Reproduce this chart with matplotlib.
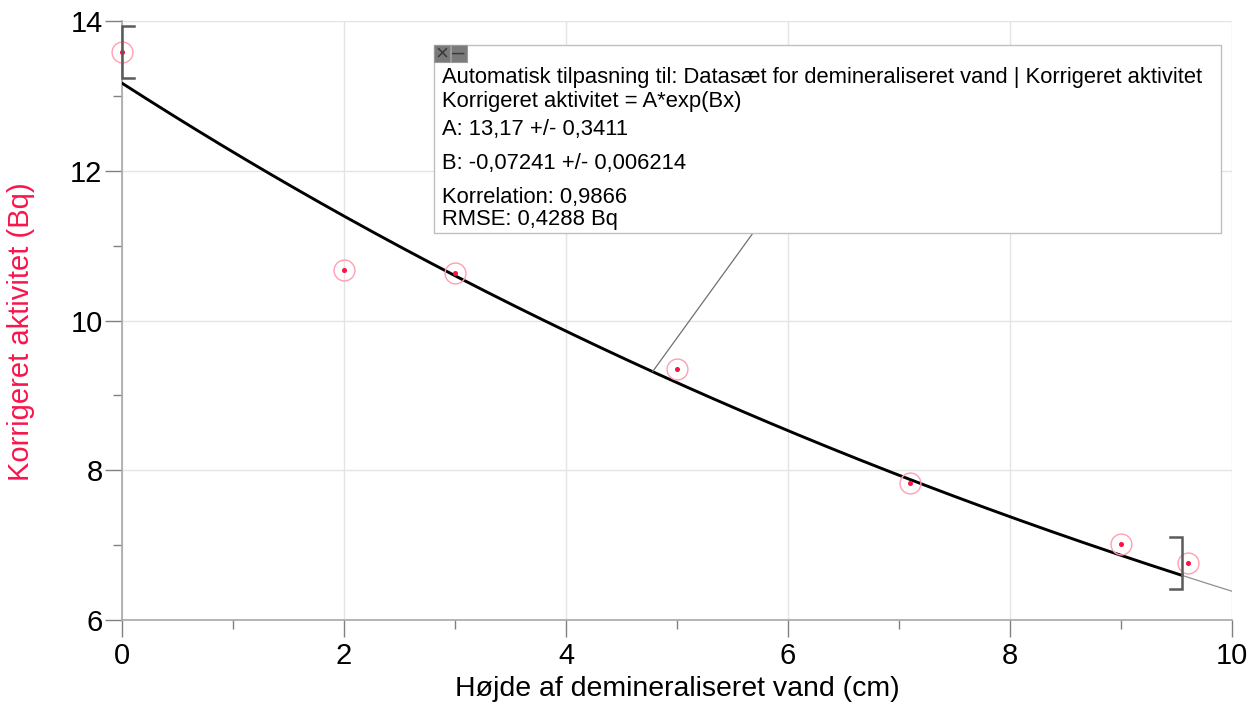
import numpy as np
import matplotlib
matplotlib.use("Agg")
import matplotlib.pyplot as plt
from matplotlib.ticker import MultipleLocator

plt.rcParams['font.family'] = ['Liberation Sans', 'DejaVu Sans']

# Data
hoejde = [0.0, 2.0, 3.0, 5.0, 7.1, 9.0, 9.6]
aktivitet = [13.59, 10.68, 10.64, 9.35, 7.83, 7.02, 6.76]

# Fit parameters
A = 13.17
B = -0.07241
fit_start = 0.0
fit_end = 9.55

legend_lines = [
    "Automatisk tilpasning til: Datasæt for demineraliseret vand | Korrigeret aktivitet",
    "Korrigeret aktivitet = A*exp(Bx)",
    "A: 13,17 +/- 0,3411",
    "B: -0,07241 +/- 0,006214",
    "Korrelation: 0,9866",
    "RMSE: 0,4288 Bq",
]

W, H = 1260, 713
fig = plt.figure(figsize=(W / 100, H / 100), dpi=100)
ax = fig.add_axes([122 / W, (H - 620) / H, (1232 - 122) / W, (620 - 21) / H])

ax.set_xlim(0, 10)
ax.set_ylim(6, 14)

ax.xaxis.set_major_locator(MultipleLocator(2))
ax.xaxis.set_minor_locator(MultipleLocator(1))
ax.yaxis.set_major_locator(MultipleLocator(2))
ax.yaxis.set_minor_locator(MultipleLocator(1))

ax.grid(True, which='major', color='#e4e4e4', linewidth=1.0, zorder=0)
ax.set_axisbelow(True)
for s in ['top', 'right']:
    ax.spines[s].set_visible(False)
for s in ['left', 'bottom']:
    ax.spines[s].set_color('#a8a8a8')
    ax.spines[s].set_linewidth(1.2)

ax.tick_params(which='major', length=12, width=1.0, color='#808080', labelsize=21, pad=2)
ax.tick_params(which='minor', length=6.5, width=1.0, color='#808080')
ax.tick_params(axis='x', which='major', pad=4)

ax.set_xlabel("Højde af demineraliseret vand (cm)", fontsize=20.5, labelpad=4)
ax.set_ylabel("Korrigeret aktivitet (Bq)", fontsize=21, color='#f8164c')
ax.yaxis.set_label_coords(-0.078, 0.482)

# Fit curve
xf = np.linspace(fit_start, fit_end, 300)
ax.plot(xf, A * np.exp(B * xf), color='black', linewidth=2.1, zorder=3)
xe = np.linspace(fit_end, 10, 50)
ax.plot(xe, A * np.exp(B * xe), color='#909090', linewidth=0.9, zorder=3)

# Data points
ax.plot(hoejde, aktivitet, linestyle='none', marker='o', markersize=15,
        markerfacecolor='none', markeredgecolor='#ff9fb0', markeredgewidth=1.0,
        zorder=4, clip_on=False)
ax.plot(hoejde, aktivitet, linestyle='none', marker='o', markersize=2.6,
        color='#ff1040', zorder=5, clip_on=False)

# Fit range brackets
hh = 26 / 74.9
arm = 12 / 111
y0 = aktivitet[0]
ax.plot([fit_start + arm, fit_start, fit_start, fit_start + arm],
        [y0 + hh, y0 + hh, y0 - hh, y0 - hh], color='#5a5a5a', linewidth=1.8,
        zorder=6, clip_on=False, solid_joinstyle='miter')
y1 = aktivitet[-1]
ax.plot([fit_end - arm, fit_end, fit_end, fit_end - arm],
        [y1 + hh, y1 + hh, y1 - hh, y1 - hh], color='#5a5a5a', linewidth=1.8,
        zorder=6, clip_on=False, solid_joinstyle='miter')

# Connector line from curve to box
xc = 4.78
ax.annotate("", xy=(xc, A * np.exp(B * xc)), xytext=(753 / W, 1 - 233 / H),
            textcoords='figure fraction',
            arrowprops=dict(arrowstyle='-', color='#707070', linewidth=0.9,
                            shrinkA=0, shrinkB=0), zorder=6)

# Legend box
bx0, bx1, by0, by1 = 434, 1221, 45, 233
box = plt.Rectangle((bx0 / W, 1 - by1 / H), (bx1 - bx0) / W, (by1 - by0) / H,
                    transform=fig.transFigure, facecolor='white',
                    edgecolor='#c0c0c0', linewidth=1.0, zorder=10)
fig.add_artist(box)
# Buttons
for i, sym in enumerate(['×', '–']):
    bl = 434 + i * 16.5
    btn = plt.Rectangle((bl / W, 1 - 62 / H), 16 / W, 17 / H,
                        transform=fig.transFigure, facecolor='#7a7a7a',
                        edgecolor='#9a9a9a', linewidth=0.8, zorder=11)
    fig.add_artist(btn)
    fig.text((bl + 8) / W, 1 - 53.5 / H, sym, color='#3a3a3a', fontsize=16,
             ha='center', va='center', zorder=12)

line_y = [77, 101, 130, 164, 197, 219]
for txt, yy in zip(legend_lines, line_y):
    fig.text(442 / W, 1 - yy / H, txt, fontsize=15.8, ha='left', va='center',
             color='black', zorder=12)

fig.savefig("out.png", dpi=100)
